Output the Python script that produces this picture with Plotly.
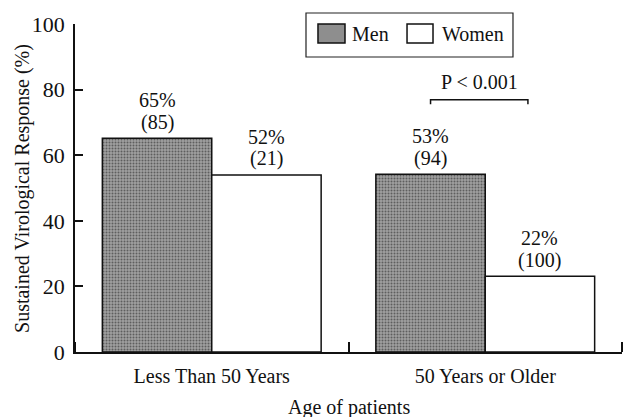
import plotly.graph_objects as go

# ---- data ----
categories = ["Less Than 50 Years", "50 Years or Older"]
series_names = ["Men", "Women"]
men_values = [65.2, 54.2]
women_values = [54.0, 23.1]
men_pct_labels = ["65%", "53%"]
men_n_labels = ["(85)", "(94)"]
women_pct_labels = ["52%", "22%"]
women_n_labels = ["(21)", "(100)"]
y_ticks = [0, 20, 40, 60, 80, 100]
p_label = "P < 0.001"
x_title = "Age of patients"
y_title = "Sustained Virological Response (%)"

FONT = "Liberation Serif"
FS = 20
x_pos = list(range(len(categories)))
OFF = 0.2  # half group offset for grouped bars (bargap 0.2 -> each bar 0.4 wide)

fig = go.Figure()
fig.add_trace(go.Bar(
    x=x_pos, y=men_values, name=series_names[0], showlegend=False,
    marker=dict(color="#8e8e8e",
                line=dict(color="#111111", width=1.5),
                pattern=dict(shape=".", fgcolor="#5e5e5e", bgcolor="#a0a0a0",
                             size=3, solidity=0.35, fillmode="replace")),
))
fig.add_trace(go.Bar(
    x=x_pos, y=women_values, name=series_names[1], showlegend=False,
    marker=dict(color="white", line=dict(color="#111111", width=1.5)),
))

annotations = []
for i, xv in enumerate(x_pos):
    for xc, val, pct, n in [(xv - OFF, men_values[i], men_pct_labels[i], men_n_labels[i]),
                            (xv + OFF, women_values[i], women_pct_labels[i], women_n_labels[i])]:
        annotations.append(dict(x=xc, y=val, xref="x", yref="y", text=n, showarrow=False,
                                yanchor="middle", yshift=16, font=dict(family=FONT, size=FS, color="#111")))
        annotations.append(dict(x=xc, y=val, xref="x", yref="y", text=pct, showarrow=False,
                                yanchor="middle", yshift=38, font=dict(family=FONT, size=FS, color="#111")))

# P-value bracket over the second group
br_x0, br_x1, br_y, br_leg = 1 - OFF, 1 + 0.156, 76.9, 1.4
shapes = [dict(type="path", xref="x", yref="y",
               path=f"M {br_x0} {br_y - br_leg} L {br_x0} {br_y} L {br_x1} {br_y} L {br_x1} {br_y - br_leg}",
               line=dict(color="#111", width=1.5))]
annotations.append(dict(x=(br_x0 + br_x1) / 2, y=br_y, xref="x", yref="y", text=p_label,
                        showarrow=False, yanchor="middle", yshift=18,
                        font=dict(family=FONT, size=FS, color="#111")))

# axis titles
annotations.append(dict(x=0.5, y=-0.1677, xref="paper", yref="paper", text=x_title, showarrow=False,
                        xanchor="center", yanchor="middle", font=dict(family=FONT, size=FS, color="#111")))
annotations.append(dict(x=-0.0969, y=0.5, xref="paper", yref="paper", text=y_title, showarrow=False,
                        textangle=-90, xanchor="center", yanchor="middle",
                        font=dict(family=FONT, size=FS, color="#111")))

# legend box (paper coordinates)
shapes.append(dict(type="rect", xref="paper", yref="paper", x0=0.4223, x1=0.8007, y0=0.8994, y1=1.0335,
                   line=dict(color="#222", width=1.2), fillcolor="white", layer="above"))
shapes.append(dict(type="rect", xref="paper", yref="paper", x0=0.4442, x1=0.4936, y0=0.942, y1=1.0,
                   line=dict(color="#111", width=1.5), fillcolor="#8e8e8e", layer="above"))
shapes.append(dict(type="rect", xref="paper", yref="paper", x0=0.607, x1=0.6545, y0=0.942, y1=1.0,
                   line=dict(color="#111", width=1.5), fillcolor="white", layer="above"))
annotations.append(dict(x=0.503, y=0.971, xref="paper", yref="paper", text=series_names[0], showarrow=False,
                        xanchor="left", yanchor="middle", font=dict(family=FONT, size=FS, color="#111")))
annotations.append(dict(x=0.668, y=0.971, xref="paper", yref="paper", text=series_names[1], showarrow=False,
                        xanchor="left", yanchor="middle", font=dict(family=FONT, size=FS, color="#111")))

fig.update_layout(
    width=623, height=417,
    margin=dict(l=75, r=1, t=24, b=65),
    paper_bgcolor="white", plot_bgcolor="white",
    barmode="group", bargap=0.2, bargroupgap=0,
    font=dict(family=FONT, size=FS, color="#111"),
    shapes=shapes, annotations=annotations,
)
fig.update_xaxes(
    range=[-0.5, 1.5], tickvals=x_pos, ticktext=categories, ticks="", ticklabelstandoff=5,
    showline=True, linecolor="#111", linewidth=1.5, showgrid=False, zeroline=False,
    minor=dict(ticks="inside", ticklen=10, tickwidth=1.5, tickcolor="#111", tick0=0.5, dtick=1, showgrid=False),
    automargin=False,
    tickfont=dict(family=FONT, size=FS),
)
fig.update_yaxes(
    range=[0, 100], tickvals=y_ticks, ticks="inside", ticklen=8, tickwidth=1.5, tickcolor="#111",
    showline=True, linecolor="#111", linewidth=1.5, showgrid=False, zeroline=False,
    ticklabelstandoff=4, automargin=False,
    tickfont=dict(family=FONT, size=22),
)

fig.write_html("out.html", config={"displayModeBar": False},
               post_script="document.body.style.margin='0';")
